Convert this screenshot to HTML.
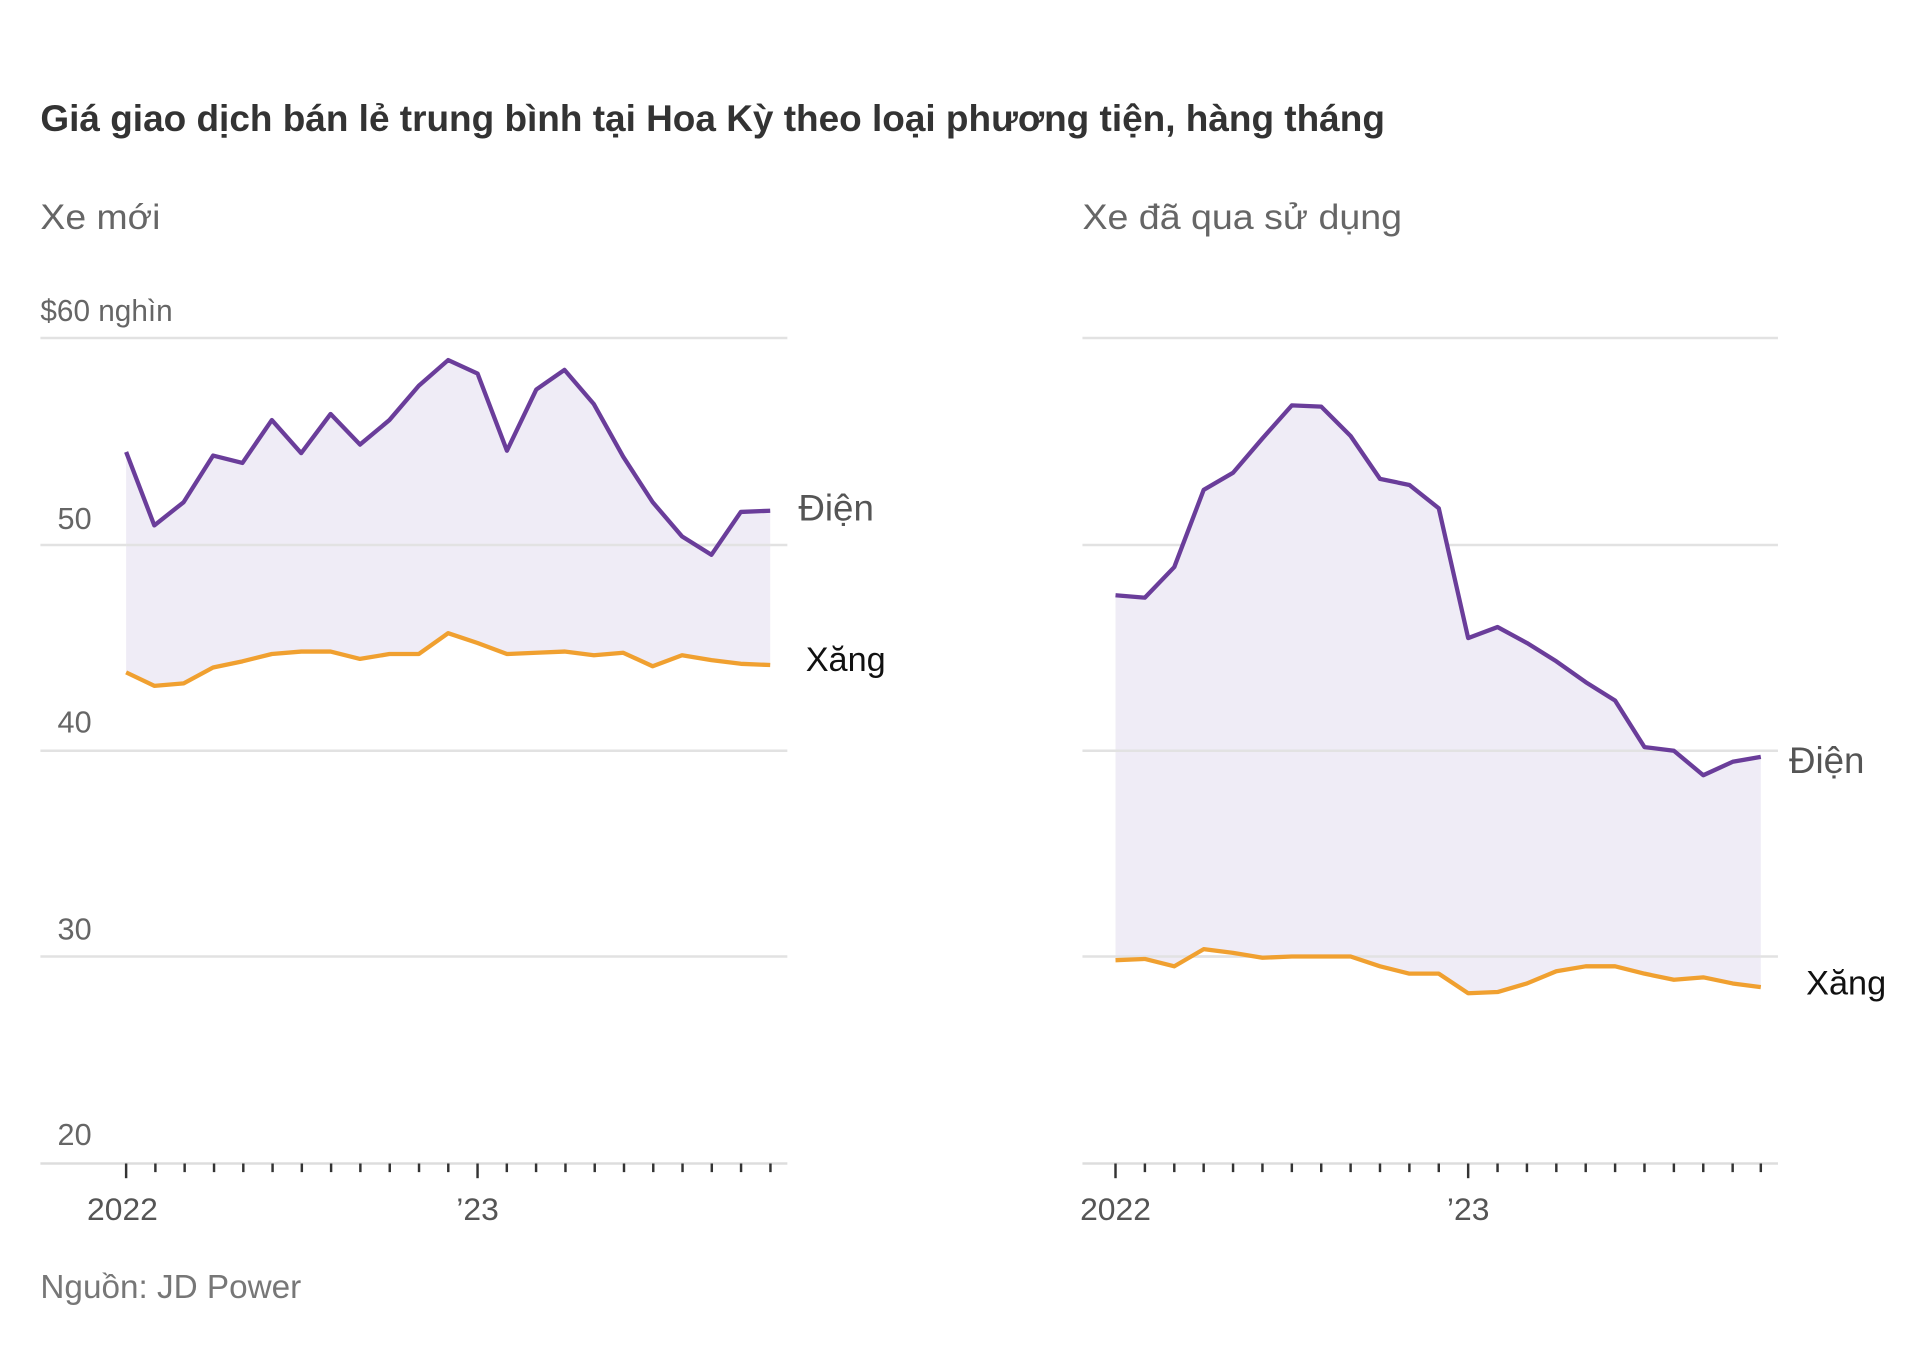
<!DOCTYPE html>
<html><head><meta charset="utf-8"><style>
html,body{margin:0;padding:0;background:#fff;}
svg{display:block;}
text{font-family:"Liberation Sans",sans-serif;}
</style></head><body>
<svg width="1920" height="1357" viewBox="0 0 1568 1108" preserveAspectRatio="none">
<rect width="1568" height="1108" fill="#fff"/>
<text x="33" y="107" font-size="30" font-weight="bold" fill="#333" textLength="1098" lengthAdjust="spacingAndGlyphs">Giá giao dịch bán lẻ trung bình tại Hoa Kỳ theo loại phương tiện, hàng tháng</text>
<text x="33" y="187" font-size="29" fill="#666" textLength="98" lengthAdjust="spacingAndGlyphs">Xe mới</text>
<text x="884" y="187" font-size="29" fill="#666" textLength="261" lengthAdjust="spacingAndGlyphs">Xe đã qua sử dụng</text>
<text x="33" y="262" font-size="25" fill="#666" textLength="108" lengthAdjust="spacingAndGlyphs">$60 nghìn</text>
<g font-size="25" fill="#666">
<text x="47" y="432">50</text><text x="47" y="598">40</text><text x="47" y="767">30</text><text x="47" y="935">20</text>
</g>
<g stroke="#e2e2e2" stroke-width="2">
<line x1="33" y1="276" x2="643" y2="276"/><line x1="33" y1="445" x2="643" y2="445"/><line x1="33" y1="613" x2="643" y2="613"/><line x1="33" y1="781" x2="643" y2="781"/>
<line x1="884" y1="276" x2="1452" y2="276"/><line x1="884" y1="445" x2="1452" y2="445"/><line x1="884" y1="613" x2="1452" y2="613"/><line x1="884" y1="781" x2="1452" y2="781"/>
</g>
<!-- left fill -->
<polygon fill="#efecf6" points="103,369 126,429 150,410 174,372 198,378 222,343 246,370 270,338 294,363 318,343 342,315 366,294 390,305 414,368 438,318 461,302 485,330 509,373 533,410 557,438 581,453 605,418 629,417 629,543 605,542 581,539 557,535 533,544 509,533 485,535 461,532 438,533 414,534 390,525 366,517 342,534 318,534 294,538 270,532 246,532 222,534 198,540 174,545 150,558 126,560 103,549"/>
<polygon fill="#efecf6" points="911,486 935,488 959,463 983,400 1007,386 1031,358 1055,331 1079,332 1103,356 1127,391 1151,396 1175,415 1199,521 1223,512 1247,525 1271,540 1295,557 1319,572 1343,610 1367,613 1391,633 1415,622 1438,618 1438,806 1415,803 1391,798 1367,800 1343,795 1319,789 1295,789 1271,793 1247,803 1223,810 1199,811 1175,795 1151,795 1127,789 1103,781 1079,781 1055,781 1031,782 1007,778 983,775 959,789 935,783 911,784"/>
<line x1="643" y1="445" x2="643" y2="445"/>
<g stroke="#e2e2e2" stroke-width="2"><line x1="103" y1="445" x2="629" y2="445"/><line x1="911" y1="613" x2="1438" y2="613"/><line x1="911" y1="781" x2="1438" y2="781"/></g>
<g fill="none" stroke-width="3.5" stroke-linejoin="round">
<polyline stroke="#6a3d9a" points="103,369 126,429 150,410 174,372 198,378 222,343 246,370 270,338 294,363 318,343 342,315 366,294 390,305 414,368 438,318 461,302 485,330 509,373 533,410 557,438 581,453 605,418 629,417"/>
<polyline stroke="#f0a030" points="103,549 126,560 150,558 174,545 198,540 222,534 246,532 270,532 294,538 318,534 342,534 366,517 390,525 414,534 438,533 461,532 485,535 509,533 533,544 557,535 581,539 605,542 629,543"/>
<polyline stroke="#6a3d9a" points="911,486 935,488 959,463 983,400 1007,386 1031,358 1055,331 1079,332 1103,356 1127,391 1151,396 1175,415 1199,521 1223,512 1247,525 1271,540 1295,557 1319,572 1343,610 1367,613 1391,633 1415,622 1438,618"/>
<polyline stroke="#f0a030" points="911,784 935,783 959,789 983,775 1007,778 1031,782 1055,781 1079,781 1103,781 1127,789 1151,795 1175,795 1199,811 1223,810 1247,803 1271,793 1295,789 1319,789 1343,795 1367,800 1391,798 1415,803 1438,806"/>
</g>
<g stroke="#ddd" stroke-width="2"><line x1="33" y1="950" x2="643" y2="950"/><line x1="884" y1="950" x2="1452" y2="950"/></g>
<g stroke="#333" stroke-width="2">
<line x1="103" y1="950" x2="103" y2="962"/><line x1="390" y1="950" x2="390" y2="962"/>
<line x1="911" y1="950" x2="911" y2="962"/><line x1="1199" y1="950" x2="1199" y2="962"/>
</g>
<g stroke="#333" stroke-width="2" id="tk">
<path d="M126.9 950v7M150.8 950v7M174.8 950v7M198.7 950v7M222.6 950v7M246.5 950v7M270.4 950v7M294.3 950v7M318.3 950v7M342.2 950v7M366.1 950v7M413.9 950v7M437.8 950v7M461.8 950v7M485.7 950v7M509.6 950v7M533.5 950v7M557.4 950v7M581.3 950v7M605.2 950v7M629.2 950v7"/>
<path d="M935 950v7M959 950v7M983 950v7M1007 950v7M1031 950v7M1055 950v7M1079 950v7M1103 950v7M1127 950v7M1151 950v7M1175 950v7M1223 950v7M1247 950v7M1271 950v7M1295 950v7M1319 950v7M1343 950v7M1367 950v7M1391 950v7M1415 950v7M1438 950v7"/>
</g>
<g font-size="26" fill="#555" text-anchor="middle">
<text x="100" y="996">2022</text><text x="390" y="996">’23</text>
<text x="911" y="996">2022</text><text x="1199" y="996">’23</text>
</g>
<text x="652" y="425" font-size="30" fill="#555">Điện</text>
<text x="658" y="548" font-size="28" fill="#111">Xăng</text>
<text x="1461" y="631" font-size="30" fill="#555">Điện</text>
<text x="1475" y="812" font-size="28" fill="#111">Xăng</text>
<text x="33" y="1060" font-size="27" fill="#777" textLength="213" lengthAdjust="spacingAndGlyphs">Nguồn: JD Power</text>
</svg>
</body></html>
